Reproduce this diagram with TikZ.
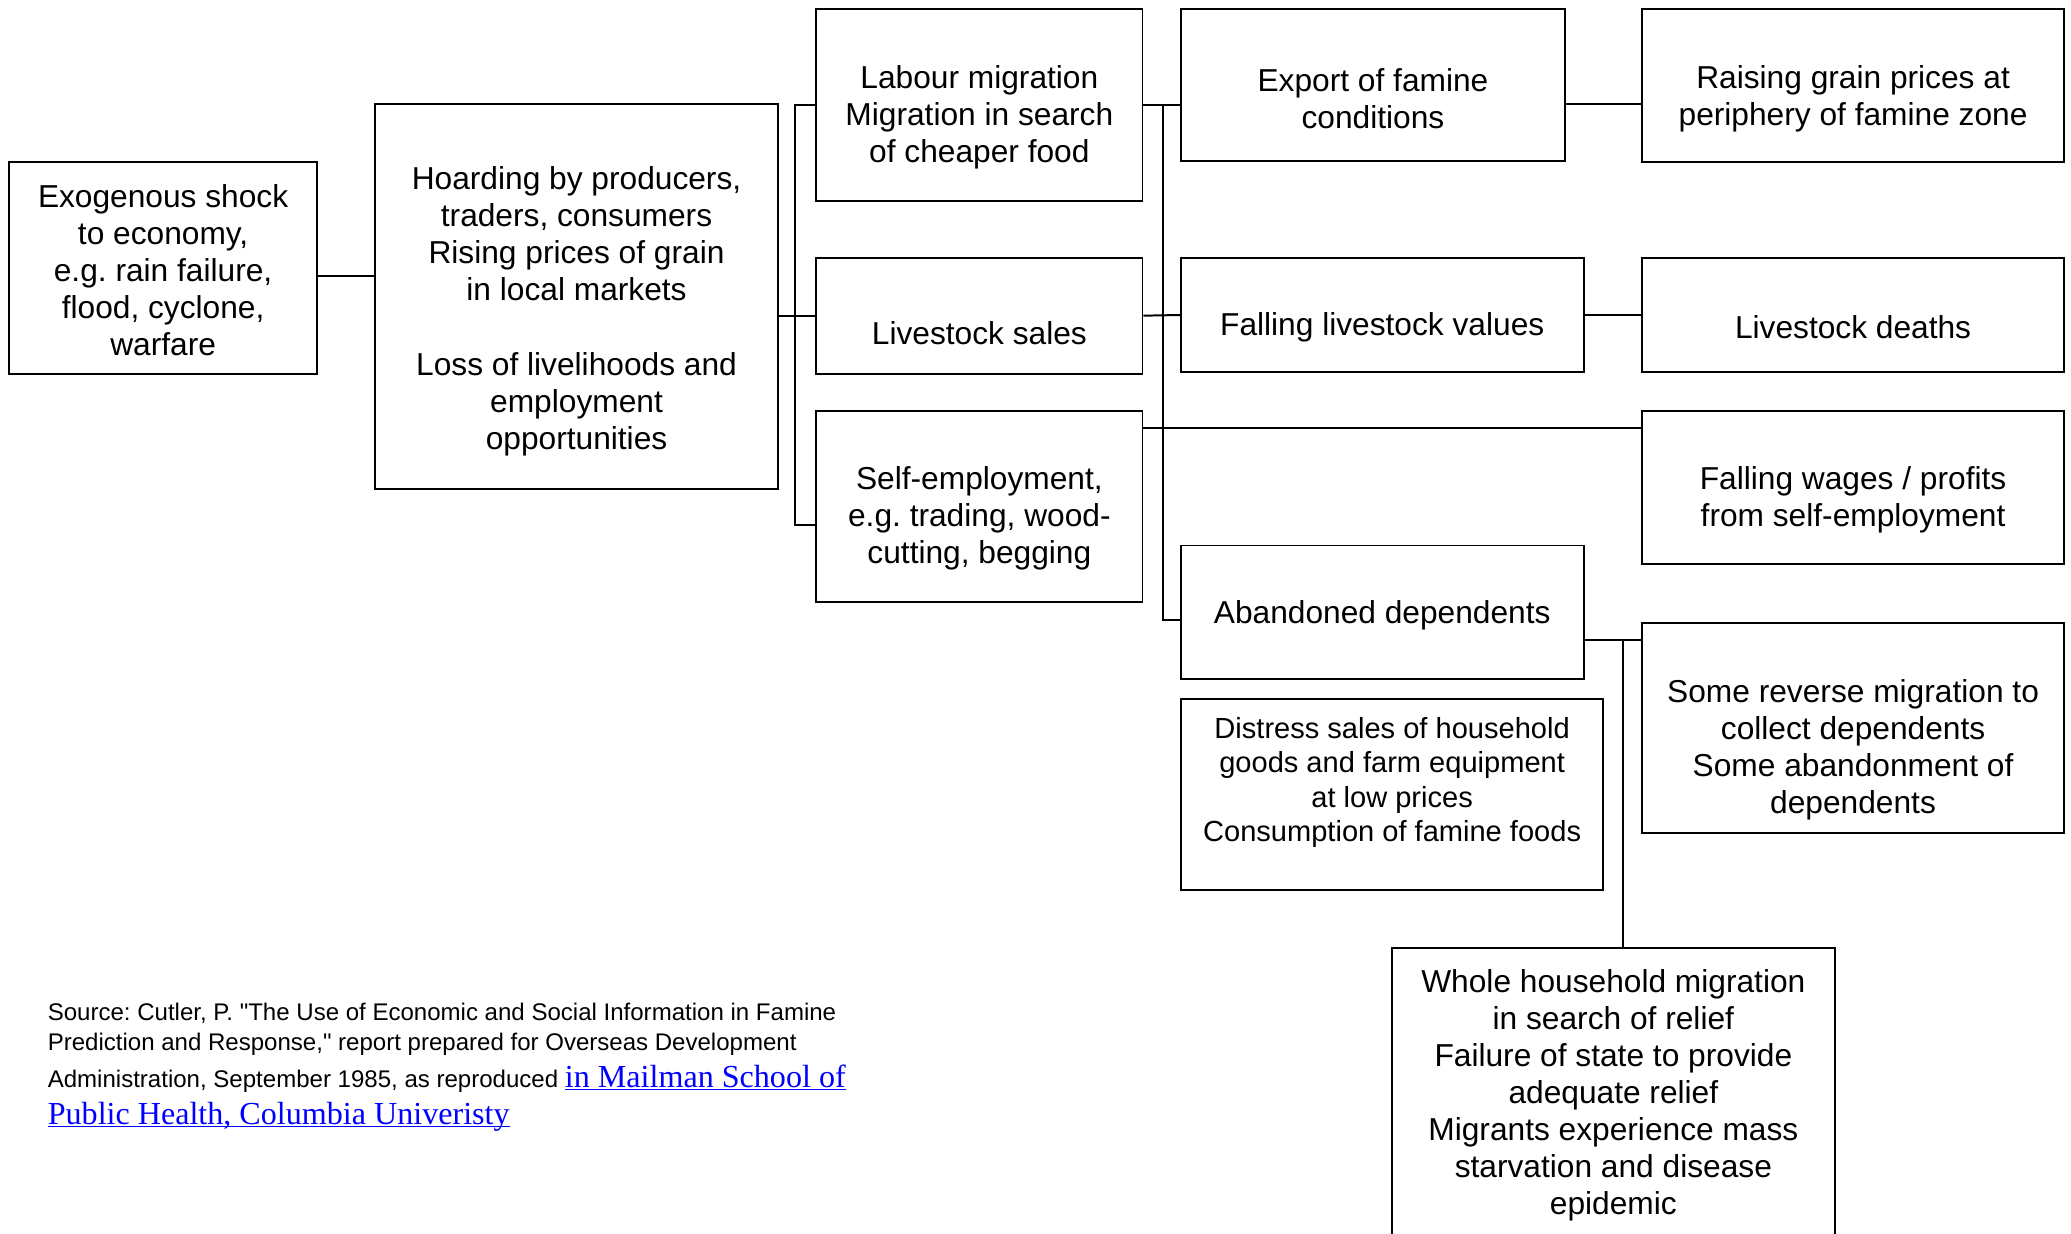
\documentclass[tikz,border=0pt]{standalone}
\usepackage{fontspec}
\setmainfont{Liberation Sans}
\newfontfamily\srcfont{Liberation Sans}
\newfontfamily\linkfont{Liberation Serif}
\definecolor{linkblue}{RGB}{0,0,255}
\newcommand{\weblink}[1]{{\linkfont\fontsize{24.3}{28}\selectfont\color{linkblue}\underline{\smash{#1}}}}

\begin{document}
\frenchspacing
\begin{tikzpicture}[x=1pt,y=1pt]
	\tikzset{box/.style={draw,line width=1.5pt,inner sep=0pt},
	         txt/.style={align=center,inner sep=0pt,yshift=-2.5pt,font=\fontsize{24}{28}\selectfont},
	         link/.style={line width=1.5pt},
	         src/.style={anchor=base west,inner sep=0pt,font=\srcfont\fontsize{18.2}{22}\selectfont}}
	\useasboundingbox (0,0) rectangle (1568,-934);

	% first column
	\node[box,minimum width=233pt,minimum height=160pt] (exo) at (123.5,-203) {};
	\node[txt] (exotxt) at (123.5,-202) {Exogenous shock\\to economy,\\e.g. rain failure,\\flood, cyclone,\\warfare};

	\node[box,minimum width=305pt,minimum height=291pt] (hoard) at (436.5,-224.5) {};
	\node[txt] (hoardtxt) at (436.5,-233) {Hoarding by producers,\\traders, consumers\\Rising prices of grain\\in local markets\\[29pt]Loss of livelihoods and\\employment\\opportunities};

	% household responses
	\node[box,minimum width=247pt,minimum height=145pt] (labour) at (741.5,-79.5) {};
	\node[txt] (labourtxt) at (741.5,-86) {Labour migration\\Migration in search\\of cheaper food};

	\node[box,minimum width=247pt,minimum height=88pt] (sales) at (741.5,-239) {};
	\node[txt] (salestxt) at (741.5,-250) {Livestock sales};

	\node[box,minimum width=247pt,minimum height=145pt] (selfemp) at (741.5,-383.5) {};
	\node[txt] (selfemptxt) at (741.5,-390) {Self-employment,\\e.g. trading, wood-\\cutting, begging};

	% market effects
	\node[box,minimum width=291pt,minimum height=115pt] (export) at (1039.5,-64.5) {};
	\node[txt] (exporttxt) at (1039.5,-72) {Export of famine\\conditions};

	\node[box,minimum width=305pt,minimum height=87pt] (values) at (1046.5,-238.5) {};
	\node[txt] (valuestxt) at (1046.5,-245) {Falling livestock values};

	\node[box,minimum width=305pt,minimum height=101pt] (abandoned) at (1046.5,-463.5) {};
	\node[txt] (abandonedtxt) at (1046.5,-463) {Abandoned dependents};

	\node[box,minimum width=320pt,minimum height=145pt] (distress) at (1054,-601.5) {};
	\node[txt,font=\fontsize{22}{26}\selectfont] (distresstxt) at (1054,-590) {Distress sales of household\\goods and farm equipment\\at low prices\\Consumption of famine foods};

	% outcomes
	\node[box,minimum width=320pt,minimum height=116pt] (grain) at (1403,-65) {};
	\node[txt] (graintxt) at (1403,-72) {Raising grain prices at\\periphery of famine zone};

	\node[box,minimum width=320pt,minimum height=87pt] (deaths) at (1403,-238.5) {};
	\node[txt] (deathstxt) at (1403,-245) {Livestock deaths};

	\node[box,minimum width=320pt,minimum height=116pt] (wages) at (1403,-369) {};
	\node[txt] (wagestxt) at (1403,-376) {Falling wages / profits\\from self-employment};

	\node[box,minimum width=320pt,minimum height=159pt] (reverse) at (1403,-551.5) {};
	\node[txt] (reversetxt) at (1403,-565) {Some reverse migration to\\collect dependents\\Some abandonment of\\dependents};

	\node[box,minimum width=335pt,minimum height=242pt] (whole) at (1221.5,-839) {};
	\node[txt] (wholetxt) at (1221.5,-826.5) {Whole household migration\\in search of relief\\Failure of state to provide\\adequate relief\\Migrants experience mass\\starvation and disease\\epidemic};

	% connectors
	\draw[link] ([yshift=-6pt]exo.east) -- ([yshift=-6pt]exo.east -| hoard.west);
	\draw[link] (hoard.east |- sales.west) -- (sales.west);
	\draw[link] (labour.west) -- ++(-15,0) |- ([yshift=-14pt]selfemp.west);
	\draw[link] (labour.east) -- (labour.east -| export.west);
	\draw[link] (labour.east) ++(15,0) |- ([yshift=-6pt]abandoned.west);
	\draw[link] (sales.east) -- (values.west);
	\draw[link] ([yshift=-14pt]selfemp.north east) -- ([yshift=-14pt]wages.north west);
	\draw[link] ([yshift=-14pt]export.east) -- ([yshift=-14pt]export.east -| grain.west);
	\draw[link] (values.east) -- (deaths.west);
	\coordinate (rjoin) at ([yshift=-13pt]reverse.north west);
	\draw[link] (abandoned.east |- rjoin) -- (rjoin);
	\draw[link] ([xshift=7.5pt]whole.north) -- ([xshift=7.5pt]whole.north |- rjoin);

	% source note
	\node[src] (src1) at (36,-773) {Source: Cutler, P. "The Use of Economic and Social Information in Famine};
	\node[src] (src2) at (36,-795) {Prediction and Response," report prepared for Overseas Development};
	\node[src] (src3) at (36,-823) {Administration, September 1985, as reproduced \weblink{in Mailman School of}};
	\node[src] (src4) at (36,-851) {\weblink{Public Health, Columbia Univeristy}};
\end{tikzpicture}
\end{document}
